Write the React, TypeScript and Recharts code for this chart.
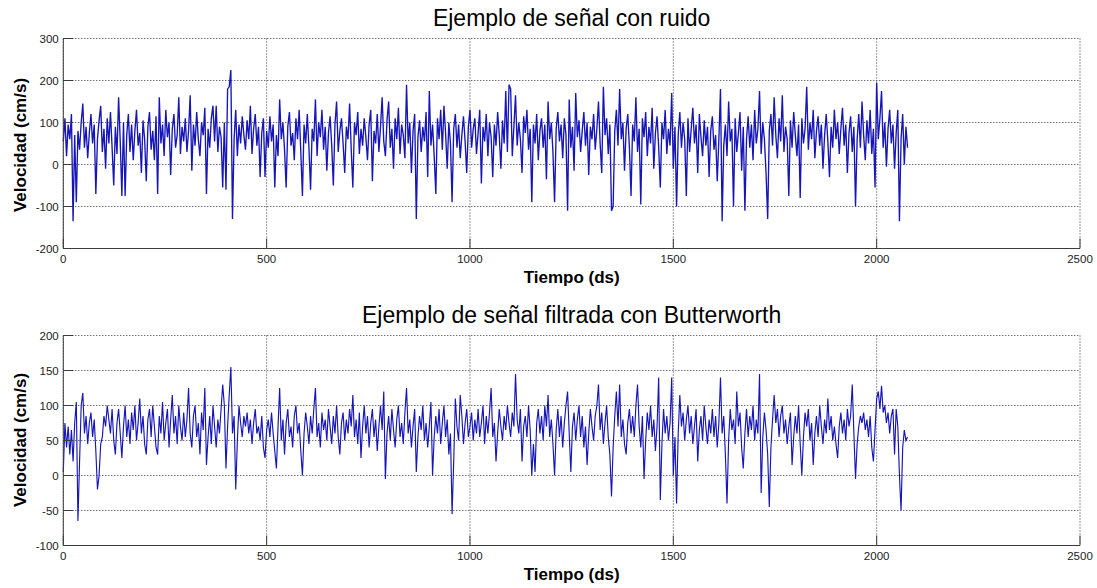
import React from 'react';
import { LineChart, Line, XAxis, YAxis, CartesianGrid } from 'recharts';

// Sampling step of the traced series (ds)
const PASO = 4;

// ---- Señal con ruido (cm/s), samples every 4 ds ----
const ruido0_500 = [
  55,110,20,95,60,120,-135,70,-90,80,35,100,145,40,90,15,75,120,50,95,-70,60,105,140,30,
  85,-10,110,50,125,40,-50,90,25,160,55,-75,100,-75,70,120,30,95,10,80,130,45,75,-20,105,
  60,-40,90,125,35,80,10,115,-70,160,50,95,20,130,65,100,-25,85,120,40,70,160,25,90,55,
  110,30,80,165,-15,95,45,125,60,20,100,70,135,-70,85,40,110,140,55,140,30,90,65,-55,100,
  -60,180,185,225,-130,60,130,20,95,50,115,70,35,105,60,140,25,85,120,45,90,-30,75,110,-30,
];
const ruido500_1000 = [
  80,40,115,55,95,-55,70,20,155,60,100,35,-55,90,125,45,75,10,110,60,130,30,-75,95,50,
  120,40,-60,85,55,155,20,100,65,130,35,90,-15,75,115,45,-50,95,150,30,80,110,50,-20,90,
  60,145,35,-55,100,70,125,25,85,45,110,65,10,95,130,-40,80,50,120,30,90,160,55,20,105,
  150,40,85,-10,110,60,135,25,95,70,15,190,50,100,-20,80,120,-130,65,105,30,90,55,125,-30,
  175,45,95,20,-70,110,60,130,35,140,75,-10,100,50,-90,85,120,40,95,15,70,115,55,-20,90,
];
const ruido1000_1500 = [
  130,40,85,110,25,75,130,-45,90,55,120,20,100,65,-30,95,45,125,70,-10,105,50,175,30,190,
  180,20,90,165,45,100,60,-20,115,75,130,35,85,-90,95,50,120,10,80,110,40,95,-35,150,60,
  100,30,-90,85,125,55,95,15,110,70,-110,155,40,90,-15,170,65,105,30,80,125,45,100,-25,90,
  60,120,35,85,150,50,-20,185,70,110,25,95,-110,-100,80,130,45,180,60,100,-15,85,120,40,-75,
  95,55,160,30,85,-95,110,65,125,20,90,50,135,-10,75,115,40,-55,100,60,130,25,85,45,170,
];
const ruido1500_2000 = [
  -10,90,-100,70,125,40,100,60,-75,110,30,85,135,50,95,-20,120,65,20,105,45,90,-30,80,115,
  35,70,-40,60,180,-135,45,95,20,150,55,85,-100,110,30,75,125,-15,90,-110,60,115,40,95,10,
  130,50,85,175,25,100,60,-20,-130,80,120,45,160,70,15,110,55,165,30,90,60,-75,105,40,125,
  70,20,95,-80,110,50,85,185,35,100,60,130,15,80,115,45,95,-10,70,120,55,-30,90,40,130,
  60,100,25,85,135,45,95,-20,75,115,30,90,-100,60,120,40,150,70,10,105,50,130,25,85,-55,
];
const ruido2000_fin = [
  195,60,110,175,40,100,-5,85,130,50,95,-10,75,130,-135,60,120,0,90,40,
];

// ---- Señal filtrada con Butterworth (cm/s), samples every 4 ds ----
const filtrada0_500 = [
  5,75,40,70,30,65,20,75,105,-65,20,100,118,60,85,45,75,90,55,80,35,-20,0,45,55,
  85,70,100,80,60,95,50,30,75,95,60,25,70,100,55,80,45,90,65,100,50,75,110,60,85,
  45,30,80,95,55,100,70,40,30,85,60,105,50,75,95,40,80,115,60,85,45,100,70,50,90,
  55,80,125,60,40,85,100,55,75,30,90,65,125,15,55,85,45,100,70,40,80,60,95,130,100,
  10,70,115,155,60,85,-20,50,100,75,55,85,70,90,60,80,45,75,95,60,70,50,85,40,25,
];
const filtrada500_1000 = [
  65,80,55,90,60,35,10,70,125,50,80,30,75,95,55,70,40,85,100,60,75,35,0,60,90,
  70,45,85,60,95,125,55,75,40,90,65,80,50,95,70,45,85,60,100,55,30,75,90,50,80,
  60,95,70,115,55,80,45,90,25,70,100,60,85,40,75,95,55,80,35,70,100,65,120,-5,60,
  85,50,95,65,40,80,100,55,75,45,90,125,60,80,40,70,95,5,55,85,65,100,50,75,40,
  70,105,0,55,85,60,95,45,75,100,55,80,30,60,-55,20,110,70,50,115,85,45,75,95,55,
];
const filtrada1000_1500 = [
  70,90,50,80,60,95,55,75,100,45,85,60,90,125,55,75,20,60,95,70,50,85,65,100,75,
  55,90,70,145,80,60,95,20,70,85,55,100,65,0,45,5,75,95,60,85,50,100,70,115,55,
  80,45,0,65,95,55,85,40,75,100,120,60,5,70,90,50,80,100,55,85,40,70,15,60,95,
  70,50,85,100,130,65,90,45,75,100,55,30,-30,40,85,120,70,130,55,80,45,30,75,95,60,
  85,55,100,130,70,40,85,-5,50,90,65,100,55,80,35,70,140,-35,45,95,60,85,50,75,140,
];
const filtrada1500_2000 = [
  0,55,-40,60,115,70,90,50,80,100,60,85,45,70,95,20,65,85,50,100,70,45,80,60,95,
  55,85,40,75,140,60,85,30,-40,50,95,65,80,45,120,70,90,40,10,60,95,55,85,65,100,
  50,80,60,145,-25,55,90,65,30,-45,40,80,115,75,95,55,85,100,60,80,45,70,90,15,55,
  85,60,100,45,0,55,90,70,95,50,75,15,60,85,55,100,70,45,80,60,110,65,85,50,70,
  45,25,70,90,60,80,50,95,70,85,130,60,-5,45,70,85,75,90,65,80,55,85,40,20,65,
];
const filtrada2000_fin = [
  110,120,95,128,90,100,75,90,60,85,95,30,95,70,0,-50,40,65,50,55,
];

const ruido = [...ruido0_500, ...ruido500_1000, ...ruido1000_1500, ...ruido1500_2000, ...ruido2000_fin];
const filtrada = [
  ...filtrada0_500, ...filtrada500_1000, ...filtrada1000_1500, ...filtrada1500_2000, ...filtrada2000_fin,
];

// ---- Axis ticks & labels ----
const xTicks = [0, 500, 1000, 1500, 2000, 2500];
const yTicksRuido = [-200, -100, 0, 100, 200, 300];
const yTicksFiltrada = [-100, -50, 0, 50, 100, 150, 200];
const titulos = ['Ejemplo de señal con ruido', 'Ejemplo de señal filtrada con Butterworth'];
const etiquetaX = 'Tiempo (ds)';
const etiquetaY = 'Velocidad (cm/s)';

const dataRuido = ruido.map((v, i) => ({ t: i * PASO, v }));
const dataFiltrada = filtrada.map((v, i) => ({ t: i * PASO, v }));

// ---- Layout ----
const W = 1097;
const LEFT = 63.3;
const RIGHT = 17;
const TOP = 38.5;
const PLOT_H = 210;
const XAX_H = 40;
const TICK = 10;
const FONT = '"Liberation Sans", Arial, Helvetica, sans-serif';
const AX = '#3c3c3c';
const LINE = '#1616b8';

const BottomTick = (p: any) => (
  <g>
    <line x1={p.x} x2={p.x} y1={p.y} y2={p.y - TICK} stroke={AX} strokeWidth={1} />
    <text x={p.x} y={p.y + 14.7} textAnchor="middle" fontSize={11.5} fill="#222" fontFamily={FONT}>
      {p.payload.value}
    </text>
  </g>
);
const TopTick = (p: any) => (
  <line x1={p.x} x2={p.x} y1={p.y} y2={p.y + TICK} stroke={AX} strokeWidth={1} />
);
const LeftTick = (p: any) => (
  <g>
    <line x1={p.x} x2={p.x + TICK} y1={p.y} y2={p.y} stroke={AX} strokeWidth={1} />
    <text x={p.x - 4.6} y={p.y} dy="0.36em" textAnchor="end" fontSize={11.5} fill="#222" fontFamily={FONT}>
      {p.payload.value}
    </text>
  </g>
);
const RightTick = (p: any) => (
  <line x1={p.x} x2={p.x - TICK} y1={p.y} y2={p.y} stroke={AX} strokeWidth={1} />
);

function Panel({ data, yDomain, yTicks, sw }: { data: any[]; yDomain: number[]; yTicks: number[]; sw: number }) {
  const H = TOP + PLOT_H + XAX_H;
  return (
    <LineChart width={W} height={H} data={data} margin={{ top: TOP, right: RIGHT, bottom: 0, left: 0 }}>
      <CartesianGrid stroke="#333" strokeDasharray="1 2" strokeWidth={1} />
      <XAxis
        dataKey="t" type="number" domain={[0, 2500]} ticks={xTicks} interval={0}
        height={XAX_H} tickSize={0} tickMargin={0} stroke={AX} tick={BottomTick}
      />
      <XAxis
        xAxisId="top" orientation="top" type="number" domain={[0, 2500]} ticks={xTicks} interval={0}
        height={0} tickSize={0} tickMargin={0} stroke={AX} tick={TopTick}
      />
      <YAxis
        type="number" domain={yDomain} ticks={yTicks} interval={0}
        width={LEFT} tickSize={0} tickMargin={0} stroke={AX} tick={LeftTick}
      />
      <YAxis
        yAxisId="right" orientation="right" type="number" domain={yDomain} ticks={yTicks} interval={0}
        width={0} tickSize={0} tickMargin={0} stroke={AX} tick={RightTick}
      />
      <Line
        type="linear" dataKey="v" stroke={LINE} strokeWidth={sw} dot={false}
        isAnimationActive={false}
      />
    </LineChart>
  );
}

const textBase: React.CSSProperties = {
  position: 'absolute', whiteSpace: 'nowrap', lineHeight: 1, fontFamily: FONT, color: '#000',
};

export default function App() {
  const plotCenterX = (LEFT + (W - RIGHT)) / 2;
  const panel2Top = 296.8;
  return (
    <div style={{ position: 'absolute', left: 0, top: 0, width: W, height: 588, background: '#fff' }}>
      <div style={{ position: 'absolute', left: 0, top: 0 }}>
        <Panel data={dataRuido} yDomain={[-200, 300]} yTicks={yTicksRuido} sw={1.35} />
      </div>
      <div style={{ position: 'absolute', left: 0, top: panel2Top }}>
        <Panel data={dataFiltrada} yDomain={[-100, 200]} yTicks={yTicksFiltrada} sw={1.15} />
      </div>

      <div style={{ ...textBase, left: plotCenterX, top: 7, fontSize: 23, transform: 'translateX(-50%)' }}>
        {titulos[0]}
      </div>
      <div style={{ ...textBase, left: plotCenterX, top: 304.3, fontSize: 23, transform: 'translateX(-50%)' }}>
        {titulos[1]}
      </div>

      <div style={{ ...textBase, left: plotCenterX, top: TOP + PLOT_H + 20.8, fontSize: 17, fontWeight: 'bold', transform: 'translateX(-50%)' }}>
        {etiquetaX}
      </div>
      <div style={{ ...textBase, left: plotCenterX, top: panel2Top + TOP + PLOT_H + 20.8, fontSize: 17, fontWeight: 'bold', transform: 'translateX(-50%)' }}>
        {etiquetaX}
      </div>

      <div style={{ ...textBase, left: 20, top: 145, fontSize: 17, fontWeight: 'bold', transform: 'translate(-50%, -50%) rotate(-90deg)' }}>
        {etiquetaY}
      </div>
      <div style={{ ...textBase, left: 20, top: 440, fontSize: 17, fontWeight: 'bold', transform: 'translate(-50%, -50%) rotate(-90deg)' }}>
        {etiquetaY}
      </div>
    </div>
  );
}
